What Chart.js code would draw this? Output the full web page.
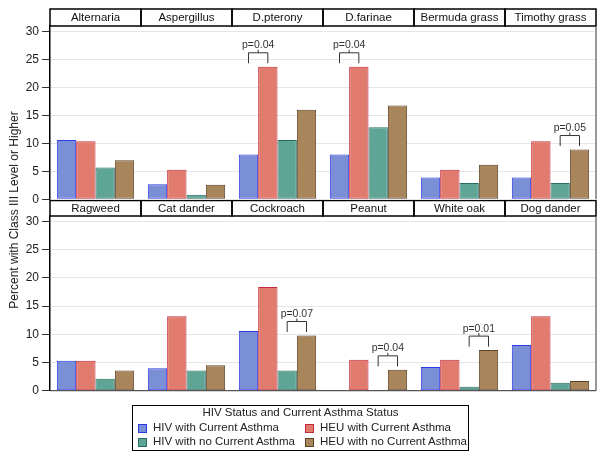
<!DOCTYPE html>
<html>
<head>
<meta charset="utf-8">
<script src="https://cdn.jsdelivr.net/npm/chart.js@4.4.1/dist/chart.umd.min.js"></script>
<style>
  body { margin: 0; background: #fff; font-family: 'Liberation Sans', Arial, sans-serif; }
  #wrap { position: relative; width: 606px; height: 460px; overflow: hidden; }
  canvas { position: absolute; left: 0; }
  #ytitle {
    position: absolute; left: 14px; top: 210px; width: 320px;
    transform: translate(-50%, -50%) rotate(-90deg);
    text-align: center; font-size: 12px; color: #222; white-space: nowrap;
  }
  #legend {
    position: absolute; left: 132px; top: 405px; width: 335px; height: 44px;
    border: 1px solid #000; font-size: 11.5px; color: #222;
  }
  #legend .title { position: absolute; left: 0; right: 0; top: 0; text-align: center; }
  #legend .item { position: absolute; white-space: nowrap; }
  #legend .sw { position: absolute; width: 7px; height: 7px; border: 1px solid; top: 3px; left: 0; }
  #legend .txt { position: absolute; left: 15px; top: 0; }
</style>
</head>
<body>
<div id="wrap">
  <canvas id="topRow" width="606" height="210" style="top:0"></canvas>
  <canvas id="bottomRow" width="606" height="210" style="top:200px"></canvas>
  <div id="ytitle">Percent with Class III Level or Higher</div>
  <div id="legend"></div>
</div>
<script>
// allergens per row
const topAllergens = ['Alternaria', 'Aspergillus', 'D.pterony', 'D.farinae', 'Bermuda grass', 'Timothy grass'];
const bottomAllergens = ['Ragweed', 'Cat dander', 'Cockroach', 'Peanut', 'White oak', 'Dog dander'];

const seriesNames = ['HIV with Current Asthma', 'HEU with Current Asthma', 'HIV with no Current Asthma', 'HEU with no Current Asthma'];

// percent values, top row
const hivAsthmaTop   = [10.6, 2.7, 8.0, 8.0, 3.9, 3.9];
const heuAsthmaTop   = [10.4, 5.3, 23.7, 23.7, 5.3, 10.4];
const hivNoAsthmaTop = [5.7, 0.8, 10.6, 12.9, 2.9, 2.9];
const heuNoAsthmaTop = [7.0, 2.6, 16.0, 16.8, 6.2, 8.9];

// percent values, bottom row
const hivAsthmaBot   = [5.3, 4.0, 10.6, 0, 4.2, 8.1];
const heuAsthmaBot   = [5.3, 13.2, 18.4, 5.5, 5.5, 13.2];
const hivNoAsthmaBot = [2.1, 3.6, 3.6, 0, 0.7, 1.4];
const heuNoAsthmaBot = [3.6, 4.5, 9.8, 3.7, 7.2, 1.7];

const yTicks = [0, 5, 10, 15, 20, 25, 30];

// p-value brackets: allergen index, the two series compared, label
const pTop = [
  { cat: 2, pair: [0, 1], label: 'p=0.04' },
  { cat: 3, pair: [0, 1], label: 'p=0.04' },
  { cat: 5, pair: [2, 3], label: 'p=0.05' }
];
const pBottom = [
  { cat: 2, pair: [2, 3], label: 'p=0.07' },
  { cat: 3, pair: [2, 3], label: 'p=0.04' },
  { cat: 4, pair: [2, 3], label: 'p=0.01' }
];

const fills   = ['#7b8fd6', '#e07b6d', '#5ea596', '#a8855b'];
const borders = ['#2d3ae6', '#c3283c', '#2c6b63', '#5a4126'];

Chart.defaults.font.family = "'Liberation Sans', Arial, sans-serif";
Chart.defaults.color = '#222';

// panel headers, frame and p-value brackets
const panelPlugin = {
  id: 'panels',
  afterDraw(chart, args, opts) {
    const ctx = chart.ctx;
    const area = chart.chartArea;
    const labels = chart.data.labels;
    const w = (area.right - area.left) / labels.length;
    ctx.save();

    // headers
    ctx.strokeStyle = '#000';
    ctx.lineWidth = 1.5;
    ctx.font = '11.5px "Liberation Sans", Arial, sans-serif';
    ctx.fillStyle = '#111';
    ctx.textAlign = 'center';
    ctx.textBaseline = 'middle';
    labels.forEach((lab, i) => {
      const x0 = area.left + i * w;
      ctx.strokeRect(x0, opts.headerTop, w, area.top - opts.headerTop);
      ctx.fillText(lab, x0 + w / 2, (opts.headerTop + area.top) / 2 + 0.5);
    });

    // right edge and bottom
    ctx.lineWidth = 1.2;
    ctx.strokeStyle = '#555';
    ctx.beginPath();
    ctx.moveTo(area.right, area.top);
    ctx.lineTo(area.right, area.bottom);
    if (opts.bottomLine) {
      ctx.moveTo(area.left, area.bottom);
      ctx.lineTo(area.right, area.bottom);
    }
    ctx.stroke();

    // brackets
    const y = chart.scales.y;
    ctx.strokeStyle = '#333';
    ctx.lineWidth = 1;
    ctx.font = '10.5px "Liberation Sans", Arial, sans-serif';
    ctx.fillStyle = '#333';
    ctx.textBaseline = 'alphabetic';
    opts.notes.forEach(n => {
      const a = chart.getDatasetMeta(n.pair[0]).data[n.cat];
      const b = chart.getDatasetMeta(n.pair[1]).data[n.cat];
      const hi = Math.max(chart.data.datasets[n.pair[0]].data[n.cat], chart.data.datasets[n.pair[1]].data[n.cat]);
      const yBase = y.getPixelForValue(hi) - 3.5;
      const yTop = yBase - 10.5;
      const mid = (a.x + b.x) / 2;
      ctx.beginPath();
      ctx.moveTo(a.x, yBase);
      ctx.lineTo(a.x, yTop);
      ctx.lineTo(b.x, yTop);
      ctx.lineTo(b.x, yBase);
      ctx.moveTo(mid, yTop);
      ctx.lineTo(mid, yTop - 3);
      ctx.stroke();
      ctx.fillText(n.label, mid, yTop - 4.5);
    });
    ctx.restore();
  }
};

function makeRow(id, labels, series, notes, pad, headerTop, bottomLine) {
  new Chart(document.getElementById(id), {
    type: 'bar',
    data: {
      labels: labels,
      datasets: series.map((d, i) => ({
        label: seriesNames[i],
        data: d,
        backgroundColor: fills[i],
        borderColor: borders[i],
        borderWidth: 1,
        borderSkipped: false,
        barPercentage: 1.0,
        categoryPercentage: 0.85
      }))
    },
    options: {
      responsive: false,
      animation: false,
      layout: { padding: pad },
      plugins: {
        legend: { display: false },
        tooltip: { enabled: false },
        panels: { headerTop: headerTop, bottomLine: bottomLine, notes: notes }
      },
      scales: {
        x: { display: false },
        y: {
          min: 0,
          max: 31,
          afterFit: s => { s.width = 50; },
          afterBuildTicks: s => { s.ticks = yTicks.map(v => ({ value: v })); },
          ticks: { font: { size: 12 }, color: '#222', padding: 3 },
          grid: { color: '#e6e6e6', tickColor: '#333', tickLength: 8, lineWidth: 1 },
          border: { display: true, color: '#000', width: 1.5 }
        }
      }
    },
    plugins: [panelPlugin]
  });
}

makeRow('topRow', topAllergens,
  [hivAsthmaTop, heuAsthmaTop, hivNoAsthmaTop, heuNoAsthmaTop],
  pTop, { top: 26, bottom: 10.7, left: 0, right: 10 }, 9, false);

makeRow('bottomRow', bottomAllergens,
  [hivAsthmaBot, heuAsthmaBot, hivNoAsthmaBot, heuNoAsthmaBot],
  pBottom, { top: 16, bottom: 19.3, left: 0, right: 10 }, 0.5, true);

// legend
const legend = document.getElementById('legend');
const title = document.createElement('div');
title.className = 'title';
title.textContent = 'HIV Status and Current Asthma Status';
legend.appendChild(title);
seriesNames.forEach((name, i) => {
  const item = document.createElement('div');
  item.className = 'item';
  item.style.left = (i % 2 === 0 ? 5 : 172) + 'px';
  item.style.top = (i < 2 ? 15 : 29) + 'px';
  const sw = document.createElement('span');
  sw.className = 'sw';
  sw.style.background = fills[i];
  sw.style.borderColor = borders[i];
  const txt = document.createElement('span');
  txt.className = 'txt';
  txt.textContent = name;
  item.appendChild(sw);
  item.appendChild(txt);
  legend.appendChild(item);
});
</script>
</body>
</html>
